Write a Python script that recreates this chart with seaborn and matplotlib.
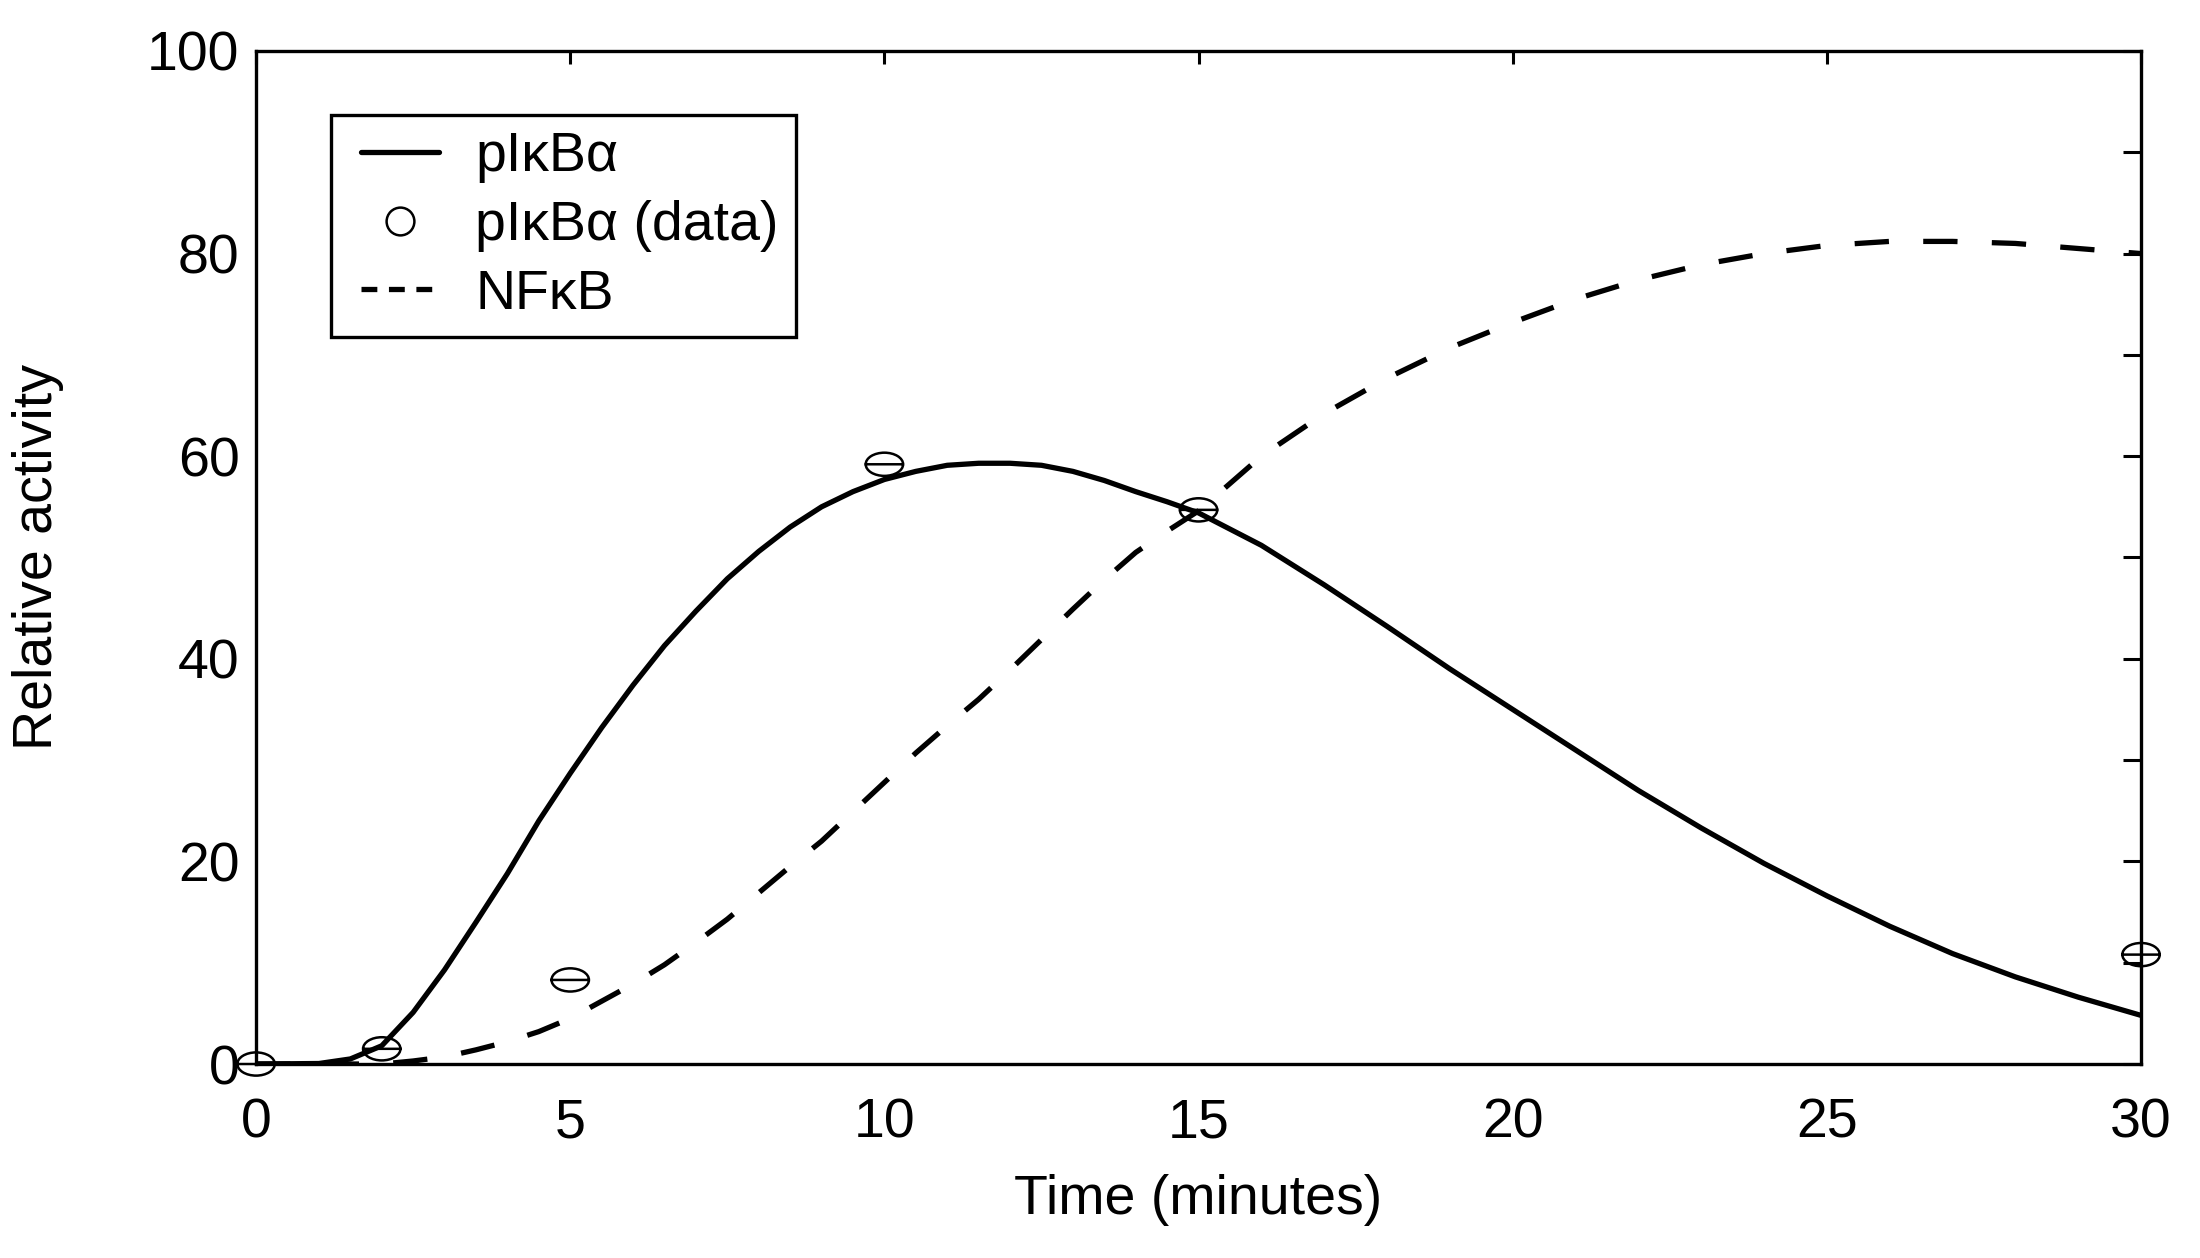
import numpy as np
import matplotlib
matplotlib.use("Agg")
import matplotlib.pyplot as plt
from matplotlib.path import Path
from matplotlib.lines import Line2D
from matplotlib.legend_handler import HandlerLine2D
from matplotlib.ticker import MultipleLocator
import seaborn as sns

# model curves
time_model = [0, 1, 1.5, 2, 2.5, 3, 3.5, 4, 4.5, 5, 5.5, 6, 6.5, 7, 7.5, 8, 8.5,
              9, 9.5, 10, 10.5, 11, 11.5, 12, 12.5, 13, 13.5, 14, 14.5, 15,
              16, 17, 18, 19, 20, 21, 22, 23, 24, 25, 26, 27, 28, 29, 30]
pikba_model = [0, 0.05, 0.5, 1.8, 5.1, 9.3, 14.0, 18.8, 24.0, 28.7, 33.2, 37.4,
               41.3, 44.7, 47.9, 50.6, 53.0, 55.0, 56.5, 57.7, 58.5, 59.1, 59.3,
               59.3, 59.1, 58.5, 57.6, 56.5, 55.5, 54.4, 51.2, 47.3, 43.2, 39.0,
               35.0, 31.0, 27.0, 23.3, 19.8, 16.6, 13.6, 10.9, 8.6, 6.6, 4.8]
nfkb_model = [0, 0, 0, 0, 0.3, 0.7, 1.4, 2.2, 3.2, 4.5, 6.2, 7.9, 9.8, 12.0,
              14.3, 16.9, 19.5, 22.0, 24.9, 27.8, 30.7, 33.4, 36.0, 38.9, 41.9,
              44.9, 47.8, 50.5, 52.6, 54.6, 60.0, 64.2, 67.7, 70.7, 73.2, 75.5,
              77.4, 78.9, 80.0, 80.8, 81.2, 81.2, 81.0, 80.5, 80.0]

# measured points
time_data = [0, 2, 5, 10, 15, 30]
pikba_data = [0, 1.5, 8.3, 59.2, 54.7, 10.8]

sns.set_style("white")
plt.rcParams["font.family"] = ["Liberation Sans", "DejaVu Sans"]
plt.rcParams["font.size"] = 20
plt.rcParams["text.color"] = "black"
plt.rcParams["axes.labelcolor"] = "black"

fig = plt.figure(figsize=(11, 6.29), dpi=200)
ax = fig.add_axes([0.1164, 0.1542, 0.8568, 0.8053])

sns.lineplot(x=time_model, y=pikba_model, color="black", linewidth=1.9,
             ax=ax, legend=False)
sns.lineplot(x=time_model, y=nfkb_model, color="black", linewidth=1.9,
             ax=ax, legend=False)
ax.lines[-1].set_dashes((6.5, 6.5))

# open ellipse with a bar through it
circ = Path.unit_circle()
verts = np.concatenate([circ.vertices * [1.0, 0.62], [[-1.05, 0], [1.05, 0]]])
codes = np.concatenate([circ.codes, [Path.MOVETO, Path.LINETO]])
theta_marker = Path(verts, codes)

sns.scatterplot(x=time_data, y=pikba_data, marker=theta_marker, s=200,
                color="black", linewidth=0.9, ax=ax, zorder=3, clip_on=False,
                legend=False)
pts = ax.collections[-1]
pts.set_facecolor("none")
pts.set_edgecolor("black")

ax.set_xlim(0, 30)
ax.set_ylim(0, 100)
ax.xaxis.set_major_locator(MultipleLocator(5))
ax.yaxis.set_major_locator(MultipleLocator(20))
ax.yaxis.set_minor_locator(MultipleLocator(10))
ax.tick_params(axis="both", which="both", direction="in", top=True, right=True,
               width=1.1, colors="black", labelsize=20)
ax.tick_params(axis="x", which="major", length=4.7, pad=12)
ax.tick_params(axis="y", which="both", length=6.5, pad=6)
for sp in ax.spines.values():
    sp.set_linewidth(1.2)
    sp.set_color("black")

ax.set_xlabel("Time (minutes)", fontsize=20, labelpad=9)
ax.set_ylabel("Relative activity", fontsize=20, labelpad=30)

handles = [
    Line2D([], [], color="black", linewidth=1.9),
    Line2D([], [], color="black", linestyle="none", marker="o", markersize=10,
           fillstyle="none", markeredgewidth=0.9),
    Line2D([], [], color="black", linewidth=1.9, dashes=(3, 2.2)),
]
labels = ["pIκBα", "pIκBα (data)", "NFκB"]
leg = ax.legend(handles, labels, loc="upper left", bbox_to_anchor=(0.040, 0.937),
                borderaxespad=0, fancybox=False, framealpha=1, edgecolor="black",
                fontsize=20, handlelength=1.64, handletextpad=0.65,
                borderpad=0.3, labelspacing=0.3,
                handler_map={Line2D: HandlerLine2D(xpad=0.23)})
leg.get_frame().set_linewidth(1.2)

fig.savefig("out.png", dpi=200, facecolor="white")
